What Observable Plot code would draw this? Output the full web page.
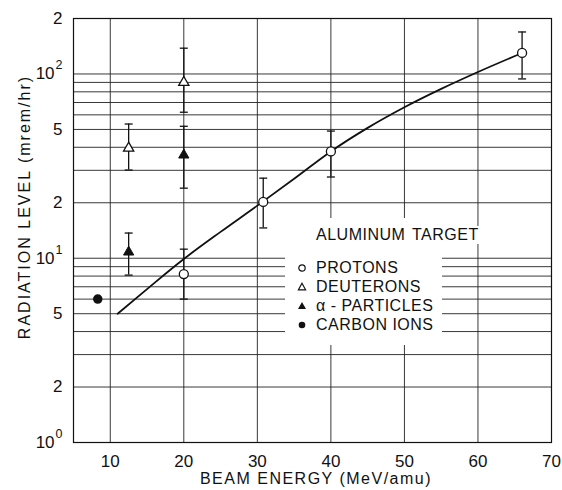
<!DOCTYPE html>
<html>
<head>
<meta charset="utf-8">
<script src="https://cdn.jsdelivr.net/npm/d3@7"></script>
<script src="https://cdn.jsdelivr.net/npm/@observablehq/plot@0.6"></script>
<style>
  html, body { margin: 0; padding: 0; background: #fff; }
  #wrap { position: relative; width: 562px; height: 490px; font-family: "Liberation Sans", Arial, sans-serif; color: #111; }
  #wrap > svg { position: absolute; left: 0; top: 0; }
  .ttl { position: absolute; font-size: 16px; letter-spacing: 1.5px; white-space: nowrap; }
  #legend { position: absolute; left: 285px; top: 218px; width: 157px; height: 127px; background: #fff; }
  #legtitle { position: absolute; left: 316px; top: 226px; font-size: 16px; letter-spacing: 0.5px; word-spacing: 2px; white-space: nowrap; background: #fff; }
  .li { position: absolute; left: 296px; font-size: 16px; letter-spacing: 0.5px; white-space: nowrap; display: flex; align-items: center; }
  #wrap .li svg { position: static; margin-right: 8px; flex: none; }
</style>
</head>
<body>
<div id="wrap"></div>
<script>
// ---- data ----
const xTicks = [10, 20, 30, 40, 50, 60, 70];
const yTickValues = [1, 2, 5, 10, 20, 50, 100, 200];
const yTickLabels = ["10^0", "2", "5", "10^1", "2", "5", "10^2", "2"];
const xGrid = [10, 20, 30, 40, 50, 60];
const yGrid = [2, 3, 4, 5, 6, 7, 8, 9, 10, 20, 30, 40, 50, 60, 70, 80, 90, 100];

// protons: [energy, value, low, high]
const protons = [
  [20, 8.2, 6.0, 11.2],
  [30.8, 20.2, 14.6, 27.2],
  [40, 38, 27.6, 49],
  [66, 130, 94, 169]
];
const deuterons = [
  [12.5, 39.6, 30.1, 53.5],
  [20, 90, 62, 138]
];
const alphas = [
  [12.5, 10.8, 8.1, 13.7],
  [20, 36.3, 24, 52]
];
const carbon = [
  [8.3, 6.0]
];
const fitEnergy = [11, 15, 20, 25, 30, 35, 40, 45, 50, 55, 60, 66];
const fitValue  = [5.0, 6.8, 9.9, 13.9, 19.3, 27, 38, 51, 66, 83, 102.5, 130];

// ---- build tables ----
const toRows = (arr, kind) => arr.map(d => ({x: d[0], y: d[1], lo: d[2], hi: d[3], kind}));
const pts = [...toRows(protons, "p"), ...toRows(deuterons, "d"), ...toRows(alphas, "a")];
const cRows = toRows(carbon, "c");
const fit = fitEnergy.map((e, i) => ({x: e, y: fitValue[i]}));

const cap = {
  draw(ctx, size) {
    const r = Math.sqrt(size / Math.PI);
    ctx.moveTo(-r, 0);
    ctx.lineTo(r, 0);
  }
};

const chart = Plot.plot({
  width: 562,
  height: 490,
  marginLeft: 73,
  marginRight: 11,
  marginTop: 18,
  marginBottom: 48,
  style: {fontFamily: "Liberation Sans, Arial, sans-serif", fontSize: "15px", color: "#111", background: "transparent"},
  x: {type: "linear", domain: [5, 70]},
  y: {type: "log", domain: [1, 200]},
  marks: [
    Plot.ruleX(xGrid, {stroke: "#222", strokeWidth: 0.9}),
    Plot.ruleY(yGrid, {stroke: "#222", strokeWidth: 0.9}),
    Plot.frame({stroke: "#111", strokeWidth: 1.2}),
    Plot.axisX({ticks: xTicks, tickSize: 0, tickPadding: 12, label: null, fontSize: 17}),
    Plot.axisY({ticks: yTickValues, tickFormat: (d) => yTickLabels[yTickValues.indexOf(d)], tickSize: 0, tickPadding: 11, label: null, fontSize: 17}),
    Plot.line(fit, {x: "x", y: "y", curve: "monotone-x", stroke: "#111", strokeWidth: 1.8}),
    Plot.ruleX(pts, {x: "x", y1: "lo", y2: "hi", stroke: "#111", strokeWidth: 1.3}),
    Plot.dot(pts, {x: "x", y: "lo", symbol: cap, r: 4, stroke: "#111", strokeWidth: 1.3}),
    Plot.dot(pts, {x: "x", y: "hi", symbol: cap, r: 4, stroke: "#111", strokeWidth: 1.3}),
    Plot.dot(pts.filter(d => d.kind === "p"), {x: "x", y: "y", symbol: "circle", r: 4.5, fill: "white", stroke: "#111", strokeWidth: 1.3}),
    Plot.dot(pts.filter(d => d.kind === "d"), {x: "x", y: "y", symbol: "triangle", r: 3.8, fill: "white", stroke: "#111", strokeWidth: 1.3}),
    Plot.dot(pts.filter(d => d.kind === "a"), {x: "x", y: "y", symbol: "triangle", r: 3.8, fill: "#111", stroke: "#111", strokeWidth: 1}),
    Plot.dot(cRows, {x: "x", y: "y", symbol: "circle", r: 4, fill: "#111", stroke: "#111"})
  ]
});

// turn "10^n" tick labels into real superscripts
d3.select(chart).selectAll("text").each(function () {
  const t = this.textContent;
  const m = /^10\^(\d)$/.exec(t);
  if (m) {
    const sel = d3.select(this);
    sel.text("10");
    sel.append("tspan").attr("dy", "-10").attr("dx", "1").attr("font-size", "12.5px").text(m[1]);
  }
});

const wrap = document.getElementById("wrap");
wrap.appendChild(chart);

const add = (html) => { wrap.insertAdjacentHTML("beforeend", html); };
add(`<div class="ttl" style="left:316px;top:479px;transform:translate(-50%,-50%);">BEAM ENERGY (MeV/amu)</div>`);
add(`<div class="ttl" style="left:25px;top:207px;transform:translate(-50%,-50%) rotate(-90deg);letter-spacing:2px;">RADIATION LEVEL (mrem/hr)</div>`);
add(`<div id="legend"></div>`);
add(`<div id="legtitle">ALUMINUM TARGET</div>`);

const legItems = [
  {label: "PROTONS", sym: `<circle cx="6" cy="6" r="3.2" fill="white" stroke="#111" stroke-width="1.2"/>`},
  {label: "DEUTERONS", sym: `<path d="M6,2.2 L9.6,8.8 L2.4,8.8 Z" fill="white" stroke="#111" stroke-width="1.2"/>`},
  {label: "\u03b1 - PARTICLES", sym: `<path d="M6,2 L10,9 L2,9 Z" fill="#111"/>`},
  {label: "CARBON IONS", sym: `<circle cx="6" cy="6" r="3.3" fill="#111"/>`}
];
const rowsY = [268, 287, 306, 325];
legItems.forEach((it, i) => {
  add(`<div class="li" style="top:${rowsY[i] - 10}px;height:20px;"><svg width="12" height="12" viewBox="0 0 12 12">${it.sym}</svg><span>${it.label}</span></div>`);
});
</script>
</body>
</html>
